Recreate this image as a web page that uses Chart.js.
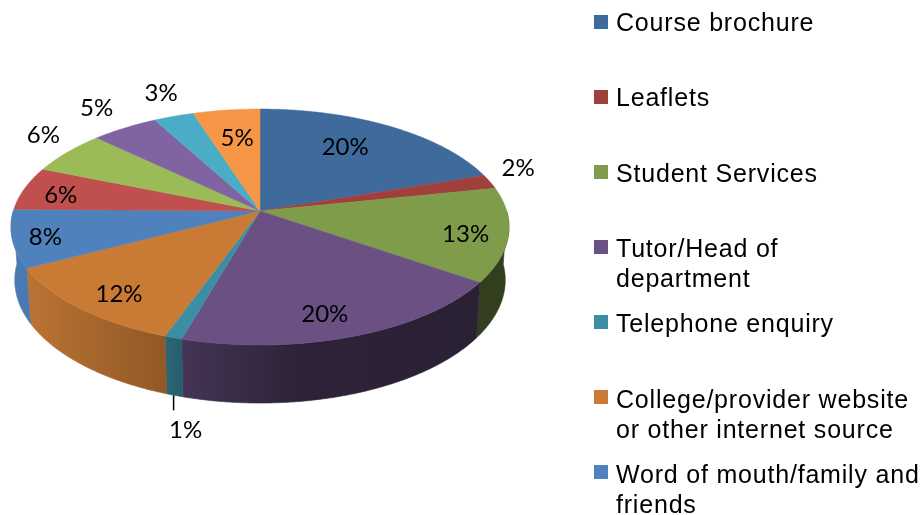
<!DOCTYPE html>
<html>
<head>
<meta charset="utf-8">
<style>html,body{margin:0;padding:0;background:#fff}canvas{display:block;filter:blur(0.4px)}</style>
<script src="https://cdn.jsdelivr.net/npm/chart.js@4/dist/chart.umd.min.js"></script>
</head>
<body>
<canvas id="c" width="921" height="515"></canvas>
<script>
// Data (only the first seven categories appear in the legend)
const categories = ["Course brochure","Leaflets","Student Services","Tutor/Head of department","Telephone enquiry","College/provider website or other internet source","Word of mouth/family and friends"];
const values = [20,2,13,20,1,12,8,6,6,5,3,5];
const legendLines = [["Course brochure"],["Leaflets"],["Student Services"],["Tutor/Head of","department"],["Telephone enquiry"],["College/provider website","or other internet source"],["Word of mouth/family and","friends"]];
const sliceColors = ["#3e6a9c","#a0403d","#7f9c4b","#6a5083","#3c8ea4","#c97b36","#4f81bd","#c0504d","#9bbb59","#8064a2","#4bacc6","#f79646"];

// Label placement: radial fraction of the disc, then a small pixel nudge
const labelFrac = [.65,1.1,.8,.8,1,.8,.85,.8,1.1,1.1,1.1,.65];
const labelNudge = [[-2,-7],[6,-11],[8,4],[-9,6],[11,35],[0,7],[-5,3],[-10,2],[-6,-12],[-16,-12],[-5,-15],[0,-4]];

// Perspective of the disc
const CX = 260, K = -0.1356;
const TOP = {X:246.7, A:87.2, B:211};
const BOT = {X:243, A:85, B:263.4};
function proj(p, a, r){
  const u = Math.cos(a)*r, v = Math.sin(a)*r, d = 1 + K*v;
  return [CX + p.X*u/d, (p.B + p.A*v)/d];
}
function shade(hex, f){
  const n = parseInt(hex.slice(1),16);
  return `rgb(${Math.round((n>>16&255)*f)},${Math.round((n>>8&255)*f)},${Math.round((n&255)*f)})`;
}
const STEP = Math.PI/180;

const pie3d = {
  id:'pie3d',
  beforeDatasetDraw(chart, args){
    const ctx = chart.ctx, arcs = args.meta.data;
    ctx.save();
    ctx.lineJoin = 'round';
    // side wall: only the part of each slice that faces the viewer
    arcs.forEach((el,i)=>{
      const s = el.startAngle, e = el.endAngle;
      const front = [];
      for(let a = s; a < e; a += STEP/2){ if(Math.sin(a) >= 0) front.push(a); }
      if(Math.sin(e) >= 0) front.push(e);
      if(front.length < 2) return;
      const g = ctx.createLinearGradient(15,0,510,0);
      g.addColorStop(0, shade(sliceColors[i], .95));
      g.addColorStop(.3, shade(sliceColors[i], .72));
      g.addColorStop(.35, shade(sliceColors[i], .64));
      g.addColorStop(.58, shade(sliceColors[i], .42));
      g.addColorStop(1, shade(sliceColors[i], .4));
      ctx.fillStyle = g; ctx.strokeStyle = g; ctx.lineWidth = .6;
      ctx.beginPath();
      front.forEach((a,j)=>{ const p = proj(TOP,a,1); j ? ctx.lineTo(p[0],p[1]) : ctx.moveTo(p[0],p[1]); });
      front.slice().reverse().forEach(a=>{ const p = proj(BOT,a,1); ctx.lineTo(p[0],p[1]); });
      ctx.closePath(); ctx.fill(); ctx.stroke();
    });
    // top face
    arcs.forEach((el,i)=>{
      const s = el.startAngle, e = el.endAngle;
      ctx.fillStyle = sliceColors[i]; ctx.strokeStyle = sliceColors[i]; ctx.lineWidth = .5;
      ctx.beginPath();
      const c = proj(TOP,0,0);
      ctx.moveTo(c[0],c[1]);
      for(let a = s; a < e; a += STEP/2){ const p = proj(TOP,a,1); ctx.lineTo(p[0],p[1]); }
      const p = proj(TOP,e,1); ctx.lineTo(p[0],p[1]);
      ctx.closePath(); ctx.fill(); ctx.stroke();
    });
    ctx.restore();
    return false;
  },
  afterDraw(chart){
    const ctx = chart.ctx, arcs = chart.getDatasetMeta(0).data;
    ctx.save();
    // data labels
    ctx.font = '24px Lato';
    ctx.fillStyle = '#000';
    ctx.textAlign = 'center';
    ctx.textBaseline = 'middle';
    arcs.forEach((el,i)=>{
      const mid = (el.startAngle+el.endAngle)/2;
      const onWall = i === 4;
      const p = onWall ? proj(BOT,mid,1) : proj(TOP,mid,labelFrac[i]);
      if(onWall){
        ctx.strokeStyle = '#000'; ctx.lineWidth = 1.5;
        ctx.beginPath(); ctx.moveTo(p[0]-1,p[1]); ctx.lineTo(p[0]-1,p[1]+15); ctx.stroke();
      }
      ctx.fillText(values[i]+'%', p[0]+labelNudge[i][0], p[1]+labelNudge[i][1]);
    });
    // legend
    ctx.font = '25px "Liberation Sans"';
    ctx.letterSpacing = '0.8px';
    ctx.textAlign = 'left';
    ctx.textBaseline = 'alphabetic';
    legendLines.forEach((lines,i)=>{
      const y = 15 + 75*i;
      ctx.fillStyle = sliceColors[i];
      ctx.fillRect(594,y,14,14);
      ctx.fillStyle = '#000';
      lines.forEach((t,j)=>ctx.fillText(t,616,31 + 75.33*i + 30*j));
    });
    ctx.restore();
  }
};

new Chart(document.getElementById('c'),{
  type:'pie',
  data:{labels:categories,datasets:[{data:values,backgroundColor:sliceColors,borderWidth:0}]},
  options:{
    responsive:false,animation:false,
    plugins:{legend:{display:false},tooltip:{enabled:false}},
    events:[]
  },
  plugins:[pie3d]
});
</script>
</body>
</html>
